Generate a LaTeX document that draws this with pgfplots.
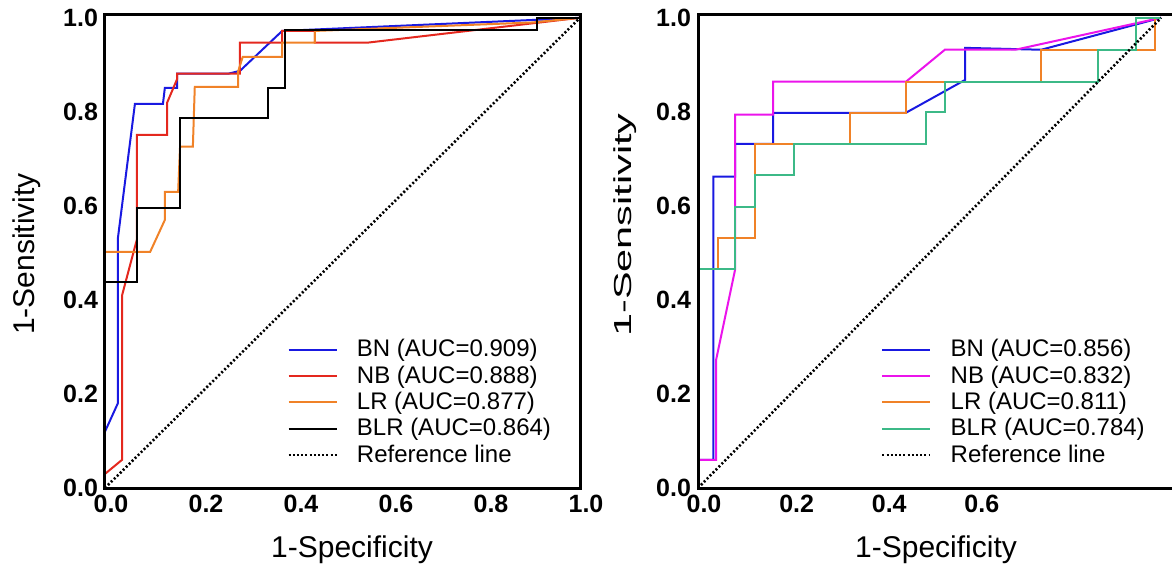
\documentclass[border=0pt]{standalone}
\usepackage{fontspec}
\setmainfont{Liberation Sans}
\usepackage{pgfplots}
\pgfplotsset{compat=1.18}

\definecolor{cblue}{RGB}{25,25,225}
\definecolor{cred}{RGB}{228,40,30}
\definecolor{corange}{RGB}{240,130,40}
\definecolor{cmagenta}{RGB}{235,20,235}
\definecolor{cgreen}{RGB}{60,185,135}

\pgfplotsset{
  roc/.style={
    scale only axis, height=237pt,
    ymin=0, ymax=1.008,
    axis on top,
    axis line style={line width=1.5pt},
    tick style={draw=none},
    ytick={0,0.2,0.4,0.6,0.8,1},
    /pgf/number format/fixed,
    /pgf/number format/fixed zerofill,
    /pgf/number format/precision=1,
    /pgf/number format/assume math mode=true,
    ticklabel style={font=\bfseries\fontsize{12.5}{14}\selectfont},
    xticklabel style={xshift=3pt},
    label style={font=\fontsize{15}{17}\selectfont},
    xlabel={1-Specificity}, ylabel={1-Sensitivity},
    legend style={at={(axis description cs:0.383,0.323)}, anchor=north west,
      draw=none, fill=none, font=\fontsize{12}{13}\selectfont,
      row sep=-1pt, inner sep=0pt,
      /tikz/every odd column/.append style={column sep=7.5pt}},
    legend image code/.code={\draw[#1] (0pt,0pt) -- (24pt,0pt);},
    legend cell align=left,
    every axis plot/.append style={line width=1pt},
  },
  refline/.style={black, line width=1.3pt, dash pattern=on 1pt off 1.1pt},
}

\begin{document}
\begin{tikzpicture}
\useasboundingbox (-52.5pt,-43.5pt) rectangle (533.5pt,244pt);

% left panel
\begin{axis}[roc, at={(0pt,0pt)}, anchor=origin, width=237.5pt,
  xmin=0, xmax=1, xtick={0,0.2,0.4,0.6,0.8,1},
  xlabel style={at={(axis description cs:0.52,-0.131)}, anchor=center},
  ylabel style={at={(axis description cs:-0.164,0.494)}, anchor=center}]
  \addplot[cblue] coordinates {
    (0,0) (0,0.12) (0.027,0.18) (0.027,0.53) (0.063,0.817) (0.122,0.817)
    (0.126,0.851) (0.152,0.851) (0.152,0.881) (0.259,0.881) (0.284,0.887)
    (0.373,0.972) (0.916,0.996) (1,1)
  };
  \addlegendentry{BN (AUC=0.909)}
  \addplot[cred] coordinates {
    (0,0) (0,0.03) (0.036,0.06) (0.036,0.41) (0.067,0.528) (0.067,0.751)
    (0.131,0.751) (0.131,0.82) (0.152,0.87) (0.152,0.881) (0.284,0.881)
    (0.284,0.947) (0.373,0.947) (0.373,0.972) (0.442,0.972) (0.442,0.947)
    (0.552,0.947) (1,1)
  };
  \addlegendentry{NB (AUC=0.888)}
  \addplot[corange] coordinates {
    (0,0) (0,0.502) (0.095,0.502) (0.126,0.57) (0.126,0.63) (0.154,0.63)
    (0.158,0.726) (0.185,0.726) (0.189,0.853) (0.28,0.853) (0.28,0.885)
    (0.29,0.917) (0.373,0.917) (0.373,0.947) (0.442,0.947) (0.442,0.972)
    (0.9,0.99) (1,1)
  };
  \addlegendentry{LR (AUC=0.877)}
  \addplot[black] coordinates {
    (0,0) (0,0.438) (0.067,0.438) (0.067,0.596) (0.158,0.596) (0.158,0.787)
    (0.343,0.787) (0.343,0.851) (0.379,0.851) (0.379,0.975) (0.909,0.975)
    (0.909,1) (1,1)
  };
  \addlegendentry{BLR (AUC=0.864)}
  \addplot[refline] coordinates {(0,0) (1,1)};
  \addlegendentry{Reference line}
\end{axis}

% right panel
\begin{axis}[roc, at={(296.5pt,0pt)}, anchor=origin, width=238.5pt,
  xmin=0, xmax=1.03, xtick={0,0.2,0.4,0.6},
  xlabel style={at={(axis description cs:0.499,-0.131)}, anchor=center},
  ylabel style={at={(axis description cs:-0.153,0.555)}, anchor=center,
    xscale=1.38, yscale=0.82}]
  \addplot[cblue] coordinates {
    (0,0) (0,0.06) (0.033,0.06) (0.033,0.662) (0.08,0.662) (0.08,0.732)
    (0.162,0.732) (0.162,0.798) (0.449,0.798) (0.577,0.868) (0.577,0.936)
    (0.741,0.932) (1,1)
  };
  \addlegendentry{BN (AUC=0.856)}
  \addplot[cmagenta] coordinates {
    (0,0) (0,0.06) (0.039,0.06) (0.039,0.272) (0.08,0.464) (0.08,0.794)
    (0.162,0.794) (0.162,0.864) (0.449,0.864) (0.533,0.932) (0.685,0.932)
    (1,1)
  };
  \addlegendentry{NB (AUC=0.832)}
  \addplot[corange] coordinates {
    (0,0) (0,0.466) (0.043,0.466) (0.043,0.532) (0.123,0.532) (0.123,0.732)
    (0.328,0.732) (0.328,0.798) (0.449,0.798) (0.449,0.864) (0.741,0.864)
    (0.741,0.932) (0.987,0.932) (0.987,1) (1,1)
  };
  \addlegendentry{LR (AUC=0.811)}
  \addplot[cgreen] coordinates {
    (0,0) (0,0.466) (0.08,0.466) (0.08,0.598) (0.123,0.598) (0.123,0.666)
    (0.207,0.666) (0.207,0.732) (0.492,0.732) (0.492,0.8) (0.533,0.8)
    (0.533,0.864) (0.864,0.864) (0.864,0.932) (0.946,0.932) (0.946,1) (1,1)
  };
  \addlegendentry{BLR (AUC=0.784)}
  \addplot[refline] coordinates {(0,0) (1,1)};
  \addlegendentry{Reference line}
\end{axis}
\end{tikzpicture}
\end{document}
